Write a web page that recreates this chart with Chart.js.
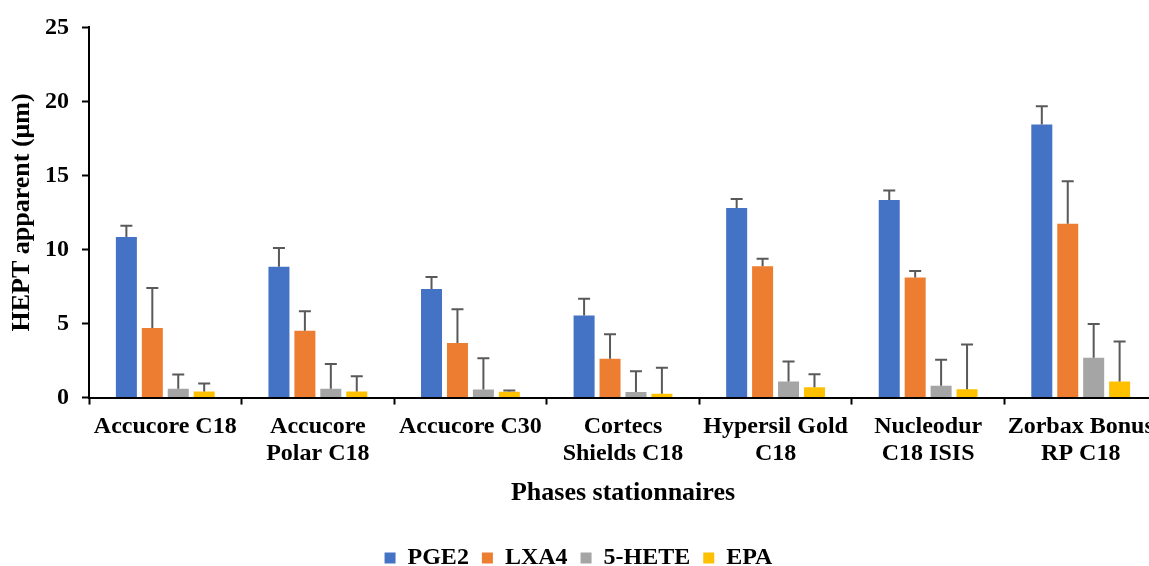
<!DOCTYPE html>
<html>
<head>
<meta charset="utf-8">
<script src="https://cdn.jsdelivr.net/npm/chart.js@4"></script>
<style>
    html, body { margin: 0; padding: 0; background: #ffffff; overflow: hidden; }
    #wrap { position: absolute; left: 0; top: 0; width: 1170px; height: 580px; }
</style>
</head>
<body>
<div id="wrap"><canvas id="hebtChart"></canvas></div>
<script>
const categories = [
    ["Accucore C18"],
    ["Accucore", "Polar C18"],
    ["Accucore C30"],
    ["Cortecs", "Shields C18"],
    ["Hypersil Gold", "C18"],
    ["Nucleodur", "C18 ISIS"],
    ["Zorbax Bonus", "RP C18"],
];
const seriesNames = ["PGE2", "LXA4", "5-HETE", "EPA"];

const pge2 = [10.85, 8.83, 7.34, 5.55, 12.8, 13.35, 18.45];
const lxa4 = [4.7, 4.52, 3.68, 2.62, 8.87, 8.11, 11.74];
const hete5 = [0.59, 0.59, 0.54, 0.38, 1.08, 0.79, 2.69];
const epa = [0.41, 0.41, 0.4, 0.25, 0.7, 0.56, 1.08];

// upper error bar sizes
const pge2Err = [0.75, 1.27, 0.81, 1.13, 0.61, 0.63, 1.22];
const lxa4Err = [2.7, 1.31, 2.28, 1.65, 0.5, 0.43, 2.87];
const hete5Err = [0.97, 1.67, 2.12, 1.4, 1.36, 1.76, 2.28];
const epaErr = [0.54, 1.03, 0.07, 1.76, 0.88, 3.03, 2.71];

const yTicks = [0, 5, 10, 15, 20, 25];

const colors = {
    blue: "#4472c4",
    orange: "#ed7d31",
    gray: "#a5a5a5",
    gold: "#ffc000",
    err: "#595959",
};

const serif = "'Liberation Serif', 'Times New Roman', serif";

function dataset(label, values, errors, color) {
    return {
        label: label,
        data: values,
        errors: errors,
        backgroundColor: color,
        borderWidth: 0,
        categoryPercentage: 0.68,
        barPercentage: 0.81,
    };
}

const errorBars = {
    id: "errorBars",
    afterDatasetsDraw(chart) {
        const ctx = chart.ctx;
        const y = chart.scales.y;
        ctx.save();
        ctx.strokeStyle = colors.err;
        ctx.lineWidth = 2;
        chart.data.datasets.forEach((ds, i) => {
            const meta = chart.getDatasetMeta(i);
            meta.data.forEach((bar, j) => {
                const top = y.getPixelForValue(ds.data[j] + ds.errors[j]);
                ctx.beginPath();
                ctx.moveTo(bar.x, bar.y);
                ctx.lineTo(bar.x, top);
                ctx.moveTo(bar.x - 6, top);
                ctx.lineTo(bar.x + 6, top);
                ctx.stroke();
            });
        });
        ctx.restore();
    },
};

new Chart(document.getElementById("hebtChart"), {
    type: "bar",
    data: {
        labels: categories,
        datasets: [
            dataset(seriesNames[0], pge2, pge2Err, colors.blue),
            dataset(seriesNames[1], lxa4, lxa4Err, colors.orange),
            dataset(seriesNames[2], hete5, hete5Err, colors.gray),
            dataset(seriesNames[3], epa, epaErr, colors.gold),
        ],
    },
    plugins: [errorBars],
    options: {
        responsive: true,
        maintainAspectRatio: false,
        animation: false,
        layout: { padding: { top: 16, right: 13, left: 0, bottom: 0 } },
        plugins: {
            tooltip: { enabled: false },
            legend: {
                position: "bottom",
                labels: {
                    boxWidth: 11,
                    boxHeight: 11,
                    padding: 13,
                    color: "#000000",
                    font: { family: serif, size: 24, weight: "bold" },
                },
            },
        },
        scales: {
            x: {
                grid: {
                    display: true,
                    drawOnChartArea: false,
                    drawTicks: true,
                    tickLength: 7,
                    tickWidth: 2,
                    tickColor: "#000000",
                },
                border: { display: true, color: "#000000", width: 2 },
                ticks: {
                    color: "#000000",
                    autoSkip: false,
                    maxRotation: 0,
                    minRotation: 0,
                    padding: 9,
                    font: { family: serif, size: 24, weight: "bold", lineHeight: 1.13 },
                },
                title: {
                    display: true,
                    text: "Phases stationnaires",
                    color: "#000000",
                    padding: { top: 1, bottom: 24 },
                    font: { family: serif, size: 26, weight: "bold" },
                },
            },
            y: {
                min: 0,
                max: 25,
                afterBuildTicks: (scale) => {
                    scale.ticks = yTicks.map((v) => ({ value: v }));
                },
                afterFit: (scale) => {
                    scale.width = 89;
                },
                grid: {
                    display: true,
                    drawOnChartArea: false,
                    drawTicks: true,
                    tickLength: 7,
                    tickWidth: 2,
                    tickColor: "#000000",
                },
                border: { display: true, color: "#000000", width: 2 },
                ticks: {
                    color: "#000000",
                    padding: 13,
                    font: { family: serif, size: 24, weight: "bold" },
                },
                title: {
                    display: true,
                    text: "HEPT apparent (μm)",
                    color: "#000000",
                    padding: { top: 7, bottom: 0 },
                    font: { family: serif, size: 26, weight: "bold" },
                },
            },
        },
    },
});
</script>
</body>
</html>
